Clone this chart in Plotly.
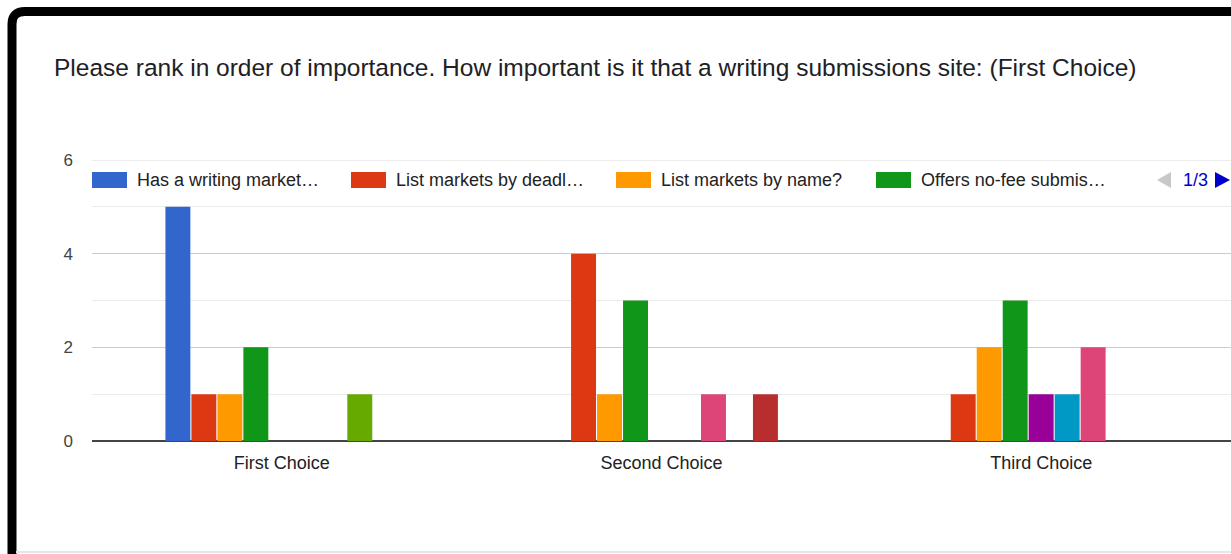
import plotly.graph_objects as go

# Survey results: counts per ranking choice for each option
categories = ["First Choice", "Second Choice", "Third Choice"]

series_names = [
    "Has a writing market…",
    "List markets by deadl…",
    "List markets by name?",
    "Offers no-fee submis…",
    "Option 5",
    "Option 6",
    "Option 7",
    "Option 8",
    "Option 9",
]

series_values = [
    [5, 0, 0],
    [1, 4, 1],
    [1, 1, 2],
    [2, 3, 3],
    [0, 0, 1],
    [0, 0, 1],
    [0, 1, 2],
    [1, 0, 0],
    [0, 1, 0],
]

series_colors = [
    "#3366cc", "#dc3912", "#ff9900", "#109618", "#990099",
    "#0099c6", "#dd4477", "#66aa00", "#b82e2e",
]

legend_count = 4
page_label = "1/3"
title_text = "Please rank in order of importance. How important is it that a writing submissions site: (First Choice)"

W, H = 1231, 554
PL, PR, PT, PB = 92, 0, 160, 113
plot_w = W - PL - PR
plot_h = H - PT - PB
FONT = "Liberation Sans, Arial"


def px(x):
    return (x - PL) / plot_w


def py(y):
    return (H - PB - y) / plot_h


fig = go.Figure()
for name, vals, col in zip(series_names, series_values, series_colors):
    fig.add_trace(go.Bar(
        x=categories, y=vals, name=name, marker_color=col,
        marker_line_width=0, showlegend=False,
    ))

shapes = []
annotations = []

# Top gridline at the upper end of the value axis
shapes.append(dict(type="line", xref="paper", yref="y", x0=0, x1=1, y0=6, y1=6,
                   line=dict(color="#d9d9d9", width=1), layer="below"))

# Legend row (first page of the paged legend)
sw_left = [92, 351, 616, 876]
for i in range(legend_count):
    x0 = sw_left[i]
    shapes.append(dict(type="rect", xref="paper", yref="paper",
                       x0=px(x0), x1=px(x0 + 35), y0=py(188), y1=py(172),
                       fillcolor=series_colors[i], line_width=0, layer="above"))
    annotations.append(dict(xref="paper", yref="paper", x=px(x0 + 43), y=py(180),
                            text=series_names[i], showarrow=False,
                            xanchor="left", yanchor="middle",
                            font=dict(family=FONT, size=18, color="#222222")))

# Paging controls
shapes.append(dict(type="path", xref="paper", yref="paper",
                   path=f"M {px(1171)} {py(172)} L {px(1157)} {py(180)} L {px(1171)} {py(188)} Z",
                   fillcolor="#c8c8c8", line_width=0, layer="above"))
shapes.append(dict(type="path", xref="paper", yref="paper",
                   path=f"M {px(1215)} {py(172)} L {px(1230)} {py(180)} L {px(1215)} {py(188)} Z",
                   fillcolor="#0000cc", line_width=0, layer="above"))
annotations.append(dict(xref="paper", yref="paper", x=px(1195), y=py(180),
                        text=page_label, showarrow=False,
                        xanchor="center", yanchor="middle",
                        font=dict(family=FONT, size=18, color="#0000cc")))

# Title
annotations.append(dict(xref="paper", yref="paper", x=px(52), y=py(68),
                        text=title_text, showarrow=False,
                        xanchor="left", yanchor="middle",
                        font=dict(family=FONT, size=24.5, color="#202124")))

# Outer frame with rounded top-left corner
shapes.append(dict(type="path", xref="paper", yref="paper",
                   path=(f"M {px(12)} {py(560)} L {px(12)} {py(24)} "
                         f"Q {px(12)} {py(11.5)} {px(25)} {py(11.5)} L {px(1240)} {py(11.5)}"),
                   line=dict(color="#000000", width=9), layer="above"))
shapes.append(dict(type="line", xref="paper", yref="paper",
                   x0=px(16), x1=px(1240), y0=py(552), y1=py(552),
                   line=dict(color="#e6e6e6", width=2), layer="above"))

fig.update_layout(
    width=W, height=H,
    margin=dict(l=PL, r=PR, t=PT, b=PB, pad=0),
    paper_bgcolor="white", plot_bgcolor="white",
    barmode="group", bargap=0.384, bargroupgap=0.04,
    shapes=shapes, annotations=annotations,
    font=dict(family=FONT),
)
fig.update_xaxes(
    showgrid=False, ticks="", showline=False,
    tickfont=dict(family=FONT, size=18, color="#222222"),
    ticklabelstandoff=9,
)
fig.update_yaxes(
    range=[0, 6], dtick=2, tick0=0,
    gridcolor="#cccccc", gridwidth=1,
    minor=dict(dtick=1, showgrid=True, gridcolor="#ebebeb", gridwidth=1),
    zeroline=True, zerolinecolor="#444444", zerolinewidth=2,
    showline=False, ticks="",
    tickfont=dict(family=FONT, size=17, color="#444444"),
    ticklabelstandoff=18,
)

fig.write_html("out.html")
